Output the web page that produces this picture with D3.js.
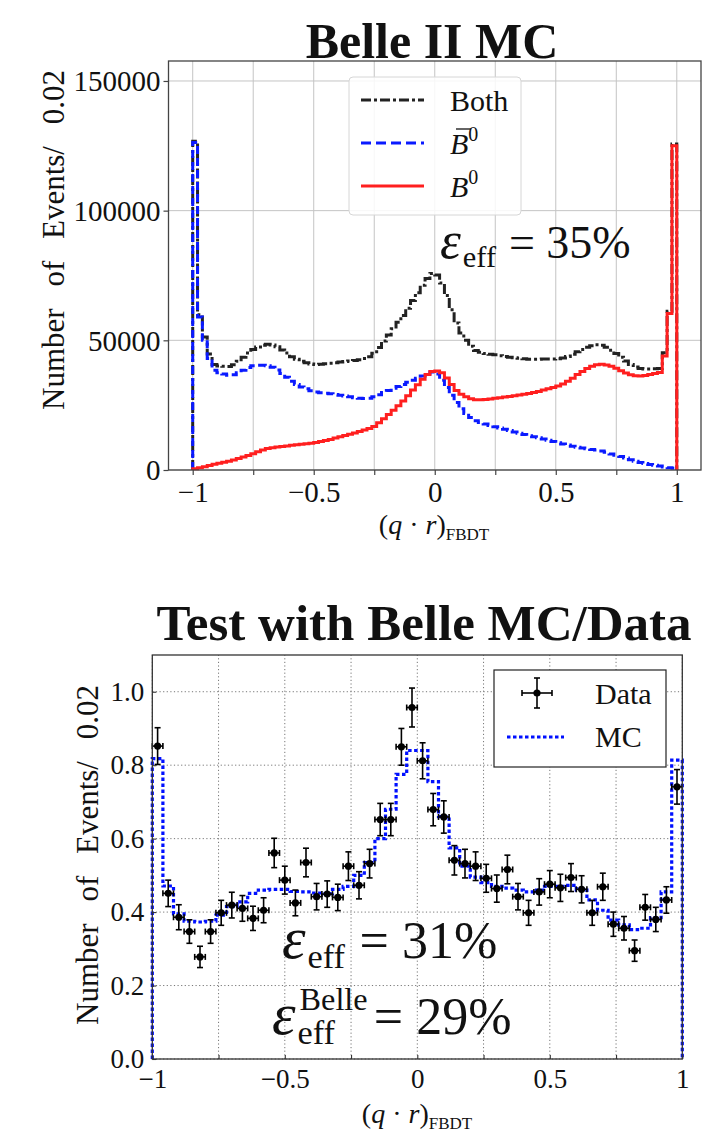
<!DOCTYPE html>
<html>
<head>
<meta charset="utf-8">
<script src="https://cdn.jsdelivr.net/npm/d3@7"></script>
<style>
  body { margin: 0; background: #fff; }
  svg text { font-family: "Liberation Serif", "DejaVu Serif", serif; fill: #111; }
</style>
</head>
<body>
<div id="chart"></div>
<script>
// ---------- data: top panel (Belle II MC), 100 bins of 0.02 from -1 to 1 ----------
const topBinStart = -1;
const topBinWidth = 0.02;
const bothCounts = [
  126800, 59900, 51300, 44700, 40700, 40100, 40000, 39900, 40600, 41900,
  43500, 45100, 46500, 47400, 48100, 48500, 48200, 47500, 46300, 45100,
  43700, 42700, 41900, 41400, 40900, 40700, 40800, 41000, 41200, 41400,
  41600, 41800, 42000, 42200, 42500, 43000, 43700, 45000, 47200, 49700,
  52100, 54500, 57000, 59600, 62400, 65400, 68300, 71200, 73800, 75800,
  75200, 72100, 67300, 61800, 56700, 52800, 50000, 47700, 46100, 45400,
  44900, 44600, 44400, 44100, 43800, 43500, 43300, 43100, 42900, 42700,
  42700, 42700, 42800, 42800, 42800, 42900, 43200, 43800, 44600, 45600,
  46500, 47300, 47900, 48300, 48100, 47300, 46200, 44900, 43500, 42000,
  40700, 39700, 39100, 38900, 38900, 39000, 39100, 45200, 61200, 125700
];
const bbarCounts = [
  126300, 59000, 50000, 43000, 38500, 37500, 37000, 36500, 36700, 37500,
  38500, 39500, 40200, 40400, 40400, 40200, 39600, 38600, 37200, 35800,
  34200, 33000, 32000, 31300, 30600, 30100, 29800, 29600, 29400, 29100,
  28800, 28500, 28200, 27900, 27700, 27600, 27700, 28200, 29000, 29900,
  30700, 31500, 32200, 33000, 33800, 34600, 35400, 36200, 37000, 37800,
  37000, 34600, 31800, 28800, 26000, 23600, 21800, 20200, 19000, 18300,
  17700, 17200, 16700, 16200, 15700, 15200, 14700, 14200, 13700, 13200,
  12800, 12400, 12000, 11500, 11000, 10500, 10000, 9600, 9200, 8800,
  8500, 8200, 7900, 7700, 7300, 6800, 6200, 5700, 5200, 4600,
  4000, 3400, 2900, 2500, 2100, 1800, 1500, 1200, 900, 700
];
const b0Counts = [
  500, 900, 1300, 1700, 2200, 2600, 3000, 3400, 3900, 4400,
  5000, 5600, 6300, 7000, 7700, 8300, 8600, 8900, 9100, 9300,
  9500, 9700, 9900, 10100, 10300, 10600, 11000, 11400, 11800, 12300,
  12800, 13300, 13800, 14300, 14800, 15400, 16000, 16800, 18200, 19800,
  21400, 23000, 24800, 26600, 28600, 30800, 32900, 35000, 36800, 38000,
  38200, 37500, 35500, 33000, 30700, 29200, 28200, 27500, 27100, 27100,
  27200, 27400, 27700, 27900, 28100, 28300, 28600, 28900, 29200, 29500,
  29900, 30300, 30800, 31300, 31800, 32400, 33200, 34200, 35400, 36800,
  38000, 39100, 40000, 40600, 40800, 40500, 40000, 39200, 38300, 37400,
  36700, 36300, 36200, 36400, 36800, 37200, 37600, 44000, 60300, 125000
];
const topXTicks = [-1, -0.5, 0, 0.5, 1];
const topYTicks = [0, 50000, 100000, 150000];

// ---------- data: bottom panel (Belle MC / Data), 50 bins of 0.04 ----------
const botBinStart = -1;
const botBinWidth = 0.04;
const dataValues = [
  0.852, 0.451, 0.386, 0.347, 0.278, 0.347, 0.398, 0.419, 0.410, 0.383,
  0.405, 0.561, 0.487, 0.425, 0.535, 0.442, 0.449, 0.440, 0.525, 0.473,
  0.532, 0.652, 0.652, 0.850, 0.957, 0.812, 0.679, 0.659, 0.541, 0.532,
  0.525, 0.492, 0.464, 0.516, 0.442, 0.398, 0.455, 0.476, 0.466, 0.494,
  0.462, 0.398, 0.469, 0.367, 0.356, 0.295, 0.413, 0.380, 0.433, 0.741
];
const dataErrors = [
  0.050, 0.036, 0.034, 0.032, 0.029, 0.032, 0.034, 0.035, 0.035, 0.033,
  0.034, 0.040, 0.038, 0.035, 0.039, 0.036, 0.036, 0.036, 0.039, 0.037,
  0.039, 0.044, 0.044, 0.050, 0.053, 0.049, 0.044, 0.044, 0.040, 0.039,
  0.039, 0.038, 0.037, 0.039, 0.036, 0.034, 0.036, 0.037, 0.037, 0.038,
  0.037, 0.034, 0.037, 0.033, 0.032, 0.029, 0.035, 0.033, 0.036, 0.047
];
const mcValues = [
  0.818, 0.471, 0.395, 0.375, 0.373, 0.375, 0.392, 0.415, 0.428, 0.451,
  0.460, 0.462, 0.462, 0.456, 0.455, 0.452, 0.450, 0.462, 0.470, 0.500,
  0.535, 0.600, 0.680, 0.775, 0.840, 0.840, 0.755, 0.660, 0.575, 0.525,
  0.495, 0.480, 0.470, 0.465, 0.460, 0.455, 0.460, 0.470, 0.470, 0.473,
  0.460, 0.433, 0.405, 0.378, 0.365, 0.352, 0.356, 0.385, 0.455, 0.814
];
const botXTicks = [-1, -0.5, 0, 0.5, 1];
const botYTicks = [0, 0.2, 0.4, 0.6, 0.8, 1.0];

const W = 720, H = 1145;
const svg = d3.select("#chart").append("svg")
  .attr("width", W).attr("height", H);

// histogram outline as a step path that starts and ends at zero
function stepPath(x, y, start, width, vals) {
  const pts = [[start, 0]];
  vals.forEach((v, i) => pts.push([start + i * width, v]));
  const end = start + vals.length * width;
  pts.push([end, vals[vals.length - 1]]);
  pts.push([end, 0]);
  return d3.line().x(d => x(d[0])).y(d => y(d[1])).curve(d3.curveStepAfter)(pts);
}

const fmtTick = d3.format("~g");

// ================= TOP PANEL =================
const xT = d3.scaleLinear([-1.1, 1.1], [168.5, 701]);
const yT = d3.scaleLinear([0, 157700], [470, 61]);
const gT = svg.append("g");

// grid
const topGridX = d3.range(-1, 1.001, 0.25);
gT.append("g").selectAll("line").data(topGridX).join("line")
  .attr("x1", d => xT(d)).attr("x2", d => xT(d))
  .attr("y1", yT.range()[0]).attr("y2", yT.range()[1])
  .attr("stroke", "#c4c4c4").attr("stroke-width", 1);
gT.append("g").selectAll("line").data(topYTicks).join("line")
  .attr("x1", xT.range()[0]).attr("x2", xT.range()[1])
  .attr("y1", d => yT(d)).attr("y2", d => yT(d))
  .attr("stroke", "#c4c4c4").attr("stroke-width", 1);

// histograms
const topSeries = [
  { vals: bothCounts, color: "#222", dash: "10,3,3,3", w: 3 },
  { vals: bbarCounts, color: "#0a1aff", dash: "8,4", w: 3 },
  { vals: b0Counts, color: "#ff1f1f", dash: null, w: 3 }
];
topSeries.forEach(s => {
  gT.append("path")
    .attr("d", stepPath(xT, yT, topBinStart, topBinWidth, s.vals))
    .attr("fill", "none").attr("stroke", s.color)
    .attr("stroke-width", s.w)
    .attr("stroke-dasharray", s.dash);
});

// frame
gT.append("rect")
  .attr("x", xT.range()[0]).attr("y", yT.range()[1])
  .attr("width", xT.range()[1] - xT.range()[0])
  .attr("height", yT.range()[0] - yT.range()[1])
  .attr("fill", "none").attr("stroke", "#444").attr("stroke-width", 1.3);

// axes
const axTx = gT.append("g").attr("transform", `translate(0,${yT.range()[0]})`)
  .call(d3.axisBottom(xT).tickValues(topGridX)
    .tickFormat(d => topXTicks.includes(+d.toFixed(2)) ? fmtTick(d) : "")
    .tickSizeInner(5).tickSizeOuter(0).tickPadding(6));
const axTy = gT.append("g").attr("transform", `translate(${xT.range()[0]},0)`)
  .call(d3.axisLeft(yT).tickValues(topYTicks).tickFormat(d3.format("d"))
    .tickSizeInner(5).tickSizeOuter(0).tickPadding(3));
[axTx, axTy].forEach(a => {
  a.select(".domain").remove();
  a.selectAll(".tick line").attr("stroke", "#444").attr("stroke-width", 1.2);
  a.selectAll("text").attr("font-size", 29).attr("fill", "#111");
});
axTy.selectAll("text").attr("dy", "0.34em");

// titles and labels
svg.append("text").attr("x", 432).attr("y", 58).attr("text-anchor", "middle")
  .attr("font-size", 50).attr("font-weight", "bold").text("Belle II MC");

function axisLabel(g, x, y) {
  const t = g.append("text").attr("x", x).attr("y", y).attr("text-anchor", "middle").attr("font-size", 28);
  t.append("tspan").text("(");
  t.append("tspan").attr("font-style", "italic").text("q");
  t.append("tspan").text(" · ");
  t.append("tspan").attr("font-style", "italic").text("r");
  t.append("tspan").text(")");
  t.append("tspan").attr("font-size", 17).attr("dy", 6).text("FBDT");
}
axisLabel(svg, 434, 534);

function yLabel(x, y) {
  svg.append("text").attr("transform", `translate(${x},${y}) rotate(-90)`)
    .attr("text-anchor", "middle").attr("font-size", 31).attr("word-spacing", 14)
    .text("Number of Events/ 0.02");
}
yLabel(64, 240);

// efficiency text, pieces placed one after the other
function effText(x, y, F, pct, belle) {
  const g = svg.append("g");
  const eps = g.append("text").attr("x", x).attr("y", y).attr("font-size", F * 1.15)
    .attr("font-style", "italic").text("ε");
  const w1 = eps.node().getComputedTextLength();
  const sx = x + w1 + 2;
  const sub = g.append("text").attr("x", sx).attr("y", y + F * 0.2)
    .attr("font-size", F * 0.66).text("eff");
  let w2 = sub.node().getComputedTextLength();
  if (belle) {
    const sup = g.append("text").attr("x", sx + 2).attr("y", y - F * 0.46)
      .attr("font-size", F * 0.62).text("Belle");
    w2 = Math.max(w2, sup.node().getComputedTextLength() + 2);
  }
  g.append("text").attr("x", sx + w2 + F * (belle ? 0.12 : 0.28)).attr("y", y)
    .attr("font-size", F).text("= " + pct);
}
effText(440, 258, 46, "35%", false);

// legend (top)
const legT = svg.append("g");
legT.append("rect").attr("x", 349).attr("y", 77).attr("width", 172).attr("height", 138)
  .attr("rx", 4).attr("fill", "#fff").attr("fill-opacity", 0.85)
  .attr("stroke", "#d6d6d6").attr("stroke-width", 1);
const legItems = [
  { s: topSeries[0], y: 100, label: "Both" },
  { s: topSeries[1], y: 143, label: "bar" },
  { s: topSeries[2], y: 186, label: "B" }
];
legItems.forEach(it => {
  legT.append("line").attr("x1", 361).attr("x2", 424).attr("y1", it.y).attr("y2", it.y)
    .attr("stroke", it.s.color).attr("stroke-width", it.s.w)
    .attr("stroke-dasharray", it.s.dash === "8,4" ? "10,5" : it.s.dash);
  const t = legT.append("text").attr("x", 450).attr("y", it.y + 11).attr("font-size", 30);
  if (it.label === "Both") {
    t.text("Both");
  } else {
    t.append("tspan").attr("font-style", "italic").text("B");
    t.append("tspan").attr("font-size", 20).attr("dy", -13).text("0");
    if (it.label === "bar") {
      legT.append("line").attr("x1", 456).attr("x2", 471).attr("y1", it.y - 14).attr("y2", it.y - 14)
        .attr("stroke", "#111").attr("stroke-width", 1.3);
    }
  }
});

// ================= BOTTOM PANEL =================
const xB = d3.scaleLinear([-1, 1], [152.3, 682.3]);
const yB = d3.scaleLinear([0, 1.1], [1059, 655]);
const gB = svg.append("g");

const botGridX = d3.range(-1, 1.001, 0.25);
gB.append("g").selectAll("line").data(botGridX).join("line")
  .attr("x1", d => xB(d)).attr("x2", d => xB(d))
  .attr("y1", yB.range()[0]).attr("y2", yB.range()[1])
  .attr("stroke", "#777").attr("stroke-width", 1).attr("stroke-dasharray", "1.2,2.4");
gB.append("g").selectAll("line").data(botYTicks).join("line")
  .attr("x1", xB.range()[0]).attr("x2", xB.range()[1])
  .attr("y1", d => yB(d)).attr("y2", d => yB(d))
  .attr("stroke", "#777").attr("stroke-width", 1).attr("stroke-dasharray", "1.2,2.4");

// MC histogram
gB.append("path")
  .attr("d", stepPath(xB, yB, botBinStart, botBinWidth, mcValues))
  .attr("fill", "none").attr("stroke", "#0010ff").attr("stroke-width", 3.2)
  .attr("stroke-dasharray", "3.5,2.5");

// data points with error bars
const pts = dataValues.map((v, i) => ({
  x: botBinStart + botBinWidth * (i + 0.5), y: v, e: dataErrors[i]
}));
const pg = gB.append("g").selectAll("g").data(pts).join("g");
const cap = 3;
pg.append("line").attr("x1", d => xB(d.x - botBinWidth / 2)).attr("x2", d => xB(d.x + botBinWidth / 2))
  .attr("y1", d => yB(d.y)).attr("y2", d => yB(d.y));
pg.append("line").attr("x1", d => xB(d.x)).attr("x2", d => xB(d.x))
  .attr("y1", d => yB(d.y - d.e)).attr("y2", d => yB(d.y + d.e));
[-1, 1].forEach(s => {
  pg.append("line").attr("x1", d => xB(d.x) - cap).attr("x2", d => xB(d.x) + cap)
    .attr("y1", d => yB(d.y + s * d.e)).attr("y2", d => yB(d.y + s * d.e));
  pg.append("line").attr("x1", d => xB(d.x + s * botBinWidth / 2)).attr("x2", d => xB(d.x + s * botBinWidth / 2))
    .attr("y1", d => yB(d.y) - cap).attr("y2", d => yB(d.y) + cap);
});
pg.selectAll("line").attr("stroke", "#000").attr("stroke-width", 1.6);
pg.append("circle").attr("cx", d => xB(d.x)).attr("cy", d => yB(d.y)).attr("r", 3.6).attr("fill", "#000");

// frame
gB.append("rect")
  .attr("x", xB.range()[0]).attr("y", yB.range()[1])
  .attr("width", xB.range()[1] - xB.range()[0])
  .attr("height", yB.range()[0] - yB.range()[1])
  .attr("fill", "none").attr("stroke", "#333").attr("stroke-width", 1.3);

const axBx = gB.append("g").attr("transform", `translate(0,${yB.range()[0]})`)
  .call(d3.axisBottom(xB).tickValues(botGridX)
    .tickFormat(d => botXTicks.includes(+d.toFixed(2)) ? fmtTick(d) : "")
    .tickSizeInner(-4).tickSizeOuter(0).tickPadding(9));
const axBy = gB.append("g").attr("transform", `translate(${xB.range()[0]},0)`)
  .call(d3.axisLeft(yB).tickValues(botYTicks).tickFormat(d3.format(".1f"))
    .tickSizeInner(-4).tickSizeOuter(0).tickPadding(8));
[axBx, axBy].forEach(a => {
  a.select(".domain").remove();
  a.selectAll(".tick line").attr("stroke", "#333").attr("stroke-width", 1.1);
  a.selectAll("text").attr("font-size", 27).attr("fill", "#111");
});
axBy.selectAll("text").attr("dy", "0.32em");
axBx.selectAll("text").attr("dy", "0.74em");

svg.append("text").attr("x", 424).attr("y", 640).attr("text-anchor", "middle")
  .attr("font-size", 51).attr("font-weight", "bold").text("Test with Belle MC/Data");
axisLabel(svg, 417, 1123);
yLabel(98, 855);

effText(282, 958, 52, "31%", false);
effText(272, 1034, 52, "29%", true);

// legend (bottom)
const legB = svg.append("g");
legB.append("rect").attr("x", 494).attr("y", 670).attr("width", 172).attr("height", 97)
  .attr("fill", "#fff").attr("stroke", "#222").attr("stroke-width", 1.2);
const lx = 537, ly = 693;
legB.append("line").attr("x1", lx - 15).attr("x2", lx + 15).attr("y1", ly).attr("y2", ly);
legB.append("line").attr("x1", lx).attr("x2", lx).attr("y1", ly - 15).attr("y2", ly + 15);
legB.append("line").attr("x1", lx - cap).attr("x2", lx + cap).attr("y1", ly - 15).attr("y2", ly - 15);
legB.append("line").attr("x1", lx - cap).attr("x2", lx + cap).attr("y1", ly + 15).attr("y2", ly + 15);
legB.append("line").attr("x1", lx - 15).attr("x2", lx - 15).attr("y1", ly - cap).attr("y2", ly + cap);
legB.append("line").attr("x1", lx + 15).attr("x2", lx + 15).attr("y1", ly - cap).attr("y2", ly + cap);
legB.selectAll("line").attr("stroke", "#000").attr("stroke-width", 1.6);
legB.append("circle").attr("cx", lx).attr("cy", ly).attr("r", 3.6).attr("fill", "#000");
legB.append("line").attr("x1", 507).attr("x2", 564).attr("y1", 737).attr("y2", 737)
  .attr("stroke", "#0010ff").attr("stroke-width", 3.2).attr("stroke-dasharray", "3.5,2.5");
legB.append("text").attr("x", 595).attr("y", 704).attr("font-size", 30).text("Data");
legB.append("text").attr("x", 595).attr("y", 747).attr("font-size", 30).text("MC");
</script>
</body>
</html>
